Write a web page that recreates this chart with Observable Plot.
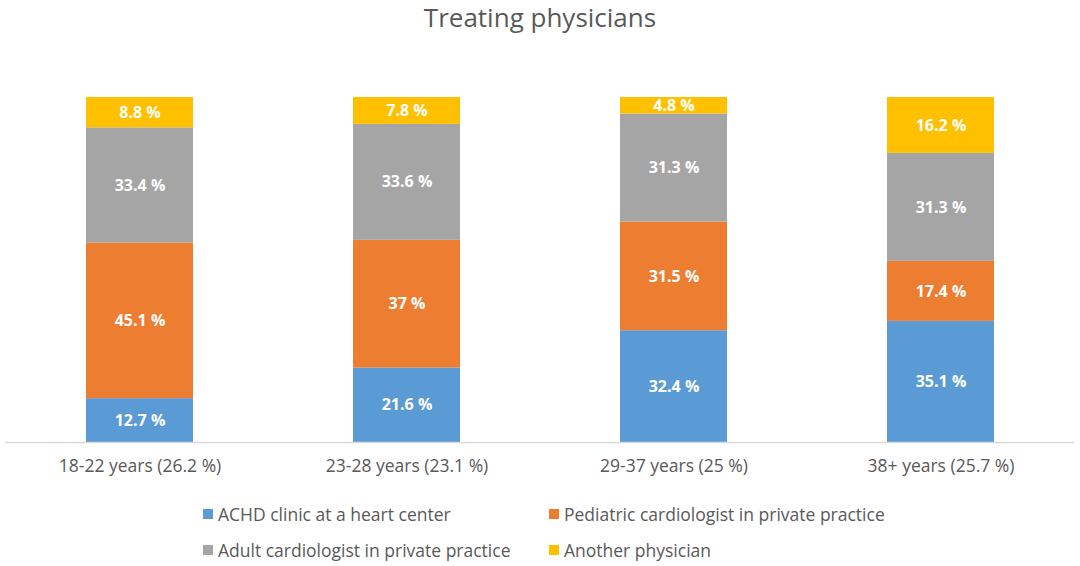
<!DOCTYPE html>
<html>
<head>
<meta charset="utf-8">
<script src="https://cdn.jsdelivr.net/npm/d3@7"></script>
<script src="https://cdn.jsdelivr.net/npm/@observablehq/plot@0.6"></script>
<style>
  html, body { margin: 0; padding: 0; background: #fff; }
  body { width: 1080px; height: 566px; overflow: hidden; font-family: "Open Sans", Lato, sans-serif; color: #595959; }
  #title { height: 34px; line-height: 34px; text-align: center; font-size: 26px; color: #595959; }
  #legend { position: absolute; left: 203px; top: 500px; display: grid; grid-template-columns: 346px 346px; row-gap: 8px; font-size: 17.5px; color: #595959; }
  .item { display: flex; align-items: center; height: 28px; white-space: nowrap; }
  .sw { width: 10px; height: 10px; margin-right: 5px; }
</style>
</head>
<body>
<div id="title">Treating physicians</div>
<div id="chart"></div>
<div id="legend"></div>
<script>
const categories = ["18-22 years (26.2 %)", "23-28 years (23.1 %)", "29-37 years (25 %)", "38+ years (25.7 %)"];
const seriesNames = ["ACHD clinic at a heart center", "Pediatric cardiologist in private practice", "Adult cardiologist in private practice", "Another physician"];
const seriesColors = ["#5B9BD5", "#ED7D31", "#A5A5A5", "#FFC000"];
const achd = [12.7, 21.6, 32.4, 35.1];
const pediatric = [45.1, 37, 31.5, 17.4];
const adult = [33.4, 33.6, 31.3, 31.3];
const another = [8.8, 7.8, 4.8, 16.2];

const seriesValues = [achd, pediatric, adult, another];
const data = [];
seriesNames.forEach((s, i) => {
  categories.forEach((c, j) => data.push({category: c, series: s, value: seriesValues[i][j]}));
});

const plot = Plot.plot({
  width: 1080,
  height: 453,
  marginTop: 63,
  marginBottom: 45,
  marginLeft: 5,
  marginRight: 6,
  style: {fontFamily: "'Open Sans', Lato, sans-serif", background: "#fff"},
  x: {domain: categories, paddingInner: 0.6, paddingOuter: 0.3, label: null, tickSize: 0, tickPadding: 17},
  y: {domain: [0, 100], axis: null},
  color: {domain: seriesNames, range: seriesColors},
  marks: [
    Plot.barY(data, {x: "category", y: "value", fill: "series", order: seriesNames}),
    Plot.ruleY([0], {stroke: "#d9d9d9", strokeWidth: 1.3}),
    Plot.text(data, Plot.stackY({x: "category", y: "value", z: "series", order: seriesNames,
      text: d => `${d.value} %`, fill: "white", fontWeight: "bold", fontSize: 16})),
    Plot.axisX({tickSize: 0, tickPadding: 17, fontSize: 17.5, fill: "#595959", label: null})
  ]
});
document.getElementById("chart").appendChild(plot);

const legend = document.getElementById("legend");
seriesNames.forEach((s, i) => {
  const it = document.createElement("div");
  it.className = "item";
  const sw = document.createElement("span");
  sw.className = "sw";
  sw.style.background = seriesColors[i];
  const t = document.createElement("span");
  t.textContent = s;
  it.appendChild(sw); it.appendChild(t);
  legend.appendChild(it);
});
</script>
</body>
</html>
